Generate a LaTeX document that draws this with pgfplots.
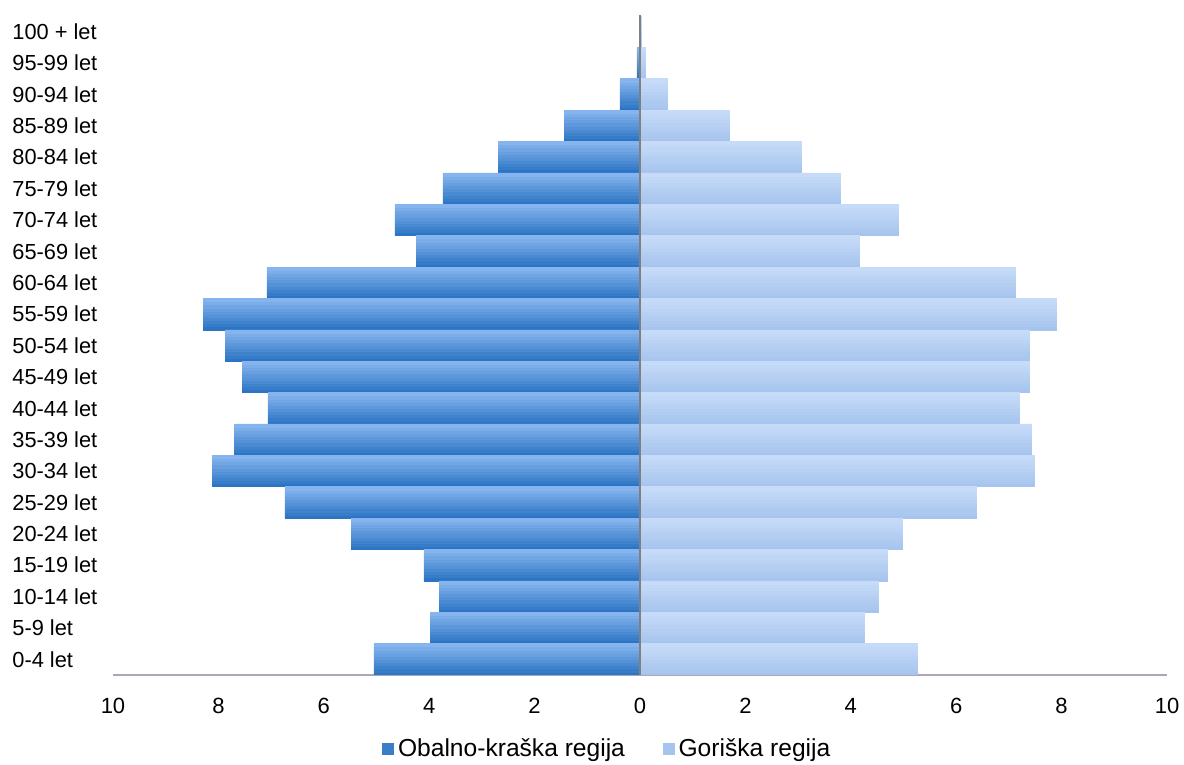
\documentclass[border=0pt]{standalone}
\usepackage{pgfplots}
\pgfplotsset{compat=1.18}
\usetikzlibrary{calc}
\usepackage{fontspec}
\setmainfont{Liberation Sans}

\definecolor{obTop}{HTML}{86B5EE}
\definecolor{obBot}{HTML}{2C75C4}
\definecolor{goTop}{HTML}{C6DBF8}
\definecolor{goBot}{HTML}{A6C4EE}
\definecolor{axgray}{HTML}{ADA6B6}

% age groups 0 = 0-4 let ... 20 = 100 + let
% left side (Obalno-kraska) stored as negative values
\pgfplotstableread{
y  ob     go
0  -5.05  5.27
1  -3.97  4.25
2  -3.80  4.52
3  -4.10  4.69
4  -5.47  4.97
5  -6.74  6.38
6  -8.12  7.48
7  -7.69  7.42
8  -7.06  7.19
9  -7.55  7.38
10 -7.86  7.38
11 -8.29  7.89
12 -7.08  7.12
13 -4.25  4.16
14 -4.65  4.91
15 -3.74  3.81
16 -2.68  3.07
17 -1.44  1.69
18 -0.38  0.51
19 -0.06  0.11
20 -0.01  0.02
}\pyramid

\begin{document}
\begin{tikzpicture}
\begin{axis}[
    name=ax,
    scale only axis,
    width=527pt, height=329.5pt,
    xbar, bar width=0.1,
    xmin=-10, xmax=10,
    ymin=-0.5, ymax=20.5,
    axis x line*=bottom,
    axis y line*=left,
    y axis line style={draw=none},
    x axis line style={axgray, line width=0.8pt, -},
    xtick={-10,-8,...,10},
    major tick length=0pt,
    xticklabel={\pgfmathparse{abs(\tick)}\pgfmathprintnumber{\pgfmathresult}},
    xticklabel style={yshift=-8pt, font=\fontsize{11}{13}\selectfont},
    /pgf/number format/assume math mode=true,
    ytick={0,...,20},
    yticklabels={0-4 let,5-9 let,10-14 let,15-19 let,20-24 let,25-29 let,30-34 let,35-39 let,40-44 let,45-49 let,50-54 let,55-59 let,60-64 let,65-69 let,70-74 let,75-79 let,80-84 let,85-89 let,90-94 let,95-99 let,100 + let},
    yticklabel style={anchor=west, inner sep=0pt, xshift=-50.5pt, font=\fontsize{10.9}{13}\selectfont},
    legend style={at={(axis description cs:0.47,0)}, anchor=center, yshift=-37pt,
        draw=none, legend columns=2, font=\fontsize{12.3}{14}\selectfont,
        /tikz/every even column/.append style={column sep=17pt}},
    legend cell align=left,
]
% each side is drawn in ten horizontal bands, dark at the bottom, light at the top
\pgfplotsinvokeforeach{0,...,9}{
  \addplot[forget plot, fill=obTop!\the\numexpr#1*11\relax!obBot,
      draw=obTop!\the\numexpr#1*11\relax!obBot, line width=0.3pt,
      bar shift={-0.45+0.1*#1}]
      table[x=ob, y=y] {\pyramid};
  \addplot[forget plot, fill=goTop!\the\numexpr#1*11\relax!goBot,
      draw=goTop!\the\numexpr#1*11\relax!goBot, line width=0.3pt,
      bar shift={-0.45+0.1*#1}]
      table[x=go, y=y] {\pyramid};
}
\addlegendimage{legend image code/.code={\fill[obBot!85!obTop] (0pt,-2.7pt) rectangle (5.4pt,2.7pt);}}
\addlegendentry{Obalno-kraška regija}
\addlegendimage{legend image code/.code={\fill[goBot] (0pt,-2.7pt) rectangle (5.4pt,2.7pt);}}
\addlegendentry{Goriška regija}
\draw[gray, line width=0.6pt] (axis cs:0,-0.5) -- (axis cs:0,20.6);
\end{axis}
\pgfresetboundingbox
\path ($(ax.south west)+(-56.5pt,-45pt)$) rectangle ($(ax.south west)+(535.5pt,337.5pt)$);
\end{tikzpicture}
\end{document}
